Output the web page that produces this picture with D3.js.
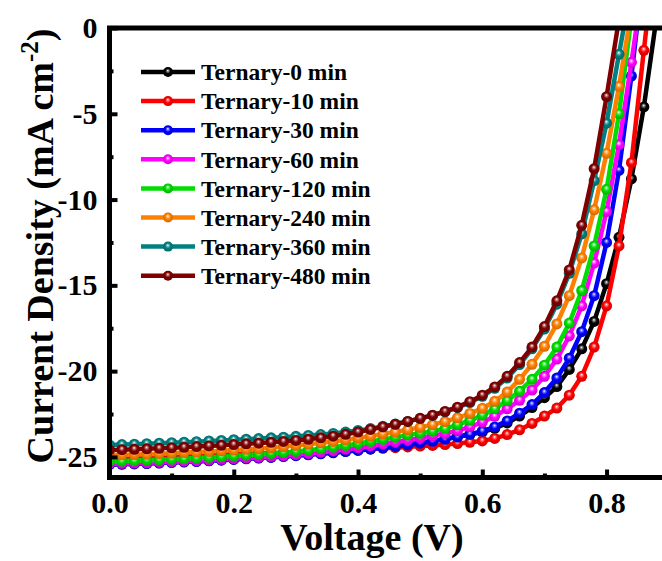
<!DOCTYPE html>
<html>
<head>
<meta charset="utf-8">
<script src="https://cdn.jsdelivr.net/npm/d3@7"></script>
<style>
  body { margin: 0; background: #fff; }
  svg { display: block; font-family: "Liberation Serif", "Times New Roman", serif; font-weight: bold; }
</style>
</head>
<body>
<svg id="jv" width="662" height="561"></svg>
<script>
// voltage steps (V)
var voltage = [0.00,0.02,0.04,0.06,0.08,0.10,0.12,0.14,0.16,0.18,0.20,0.22,0.24,0.26,0.28,0.30,0.32,0.34,0.36,0.38,
  0.40,0.42,0.44,0.46,0.48,0.50,0.52,0.54,0.56,0.58,0.60,0.62,0.64,0.66,0.68,0.70,0.72,0.74,0.76,0.78,
  0.80,0.82,0.84,0.86,0.88];

// current density (mA cm-2)
var j0 = [-25.43,-25.41,-25.39,-25.37,-25.34,-25.31,-25.28,-25.25,-25.21,-25.17,-25.13,-25.09,-25.05,-25.01,-24.96,-24.91,-24.86,-24.80,-24.74,-24.67,
  -24.60,-24.53,-24.45,-24.37,-24.28,-24.18,-24.07,-23.95,-23.82,-23.70,-23.55,-23.34,-23.02,-22.62,-22.12,-21.55,-20.90,-19.90,-18.70,-17.10,
  -14.90,-12.20,-8.80,-4.60,0.50];
var j10 = [-25.00,-24.99,-24.98,-24.97,-24.96,-24.94,-24.93,-24.91,-24.89,-24.87,-24.85,-24.83,-24.80,-24.78,-24.75,-24.72,-24.69,-24.66,-24.63,-24.60,
  -24.57,-24.53,-24.50,-24.46,-24.42,-24.37,-24.33,-24.28,-24.22,-24.15,-24.07,-23.92,-23.70,-23.42,-23.05,-22.62,-22.15,-21.40,-20.30,-18.60,
  -16.20,-12.70,-7.85,-1.30,5.00];
var j30 = [-25.45,-25.43,-25.41,-25.39,-25.36,-25.33,-25.30,-25.27,-25.23,-25.19,-25.15,-25.11,-25.07,-25.03,-24.98,-24.93,-24.88,-24.82,-24.76,-24.69,
  -24.62,-24.55,-24.47,-24.39,-24.30,-24.20,-24.09,-23.97,-23.84,-23.68,-23.50,-23.25,-22.90,-22.45,-21.95,-21.25,-20.40,-19.25,-17.70,-15.60,
  -12.50,-8.30,-2.80,3.50];
var j60 = [-25.40,-25.38,-25.36,-25.34,-25.31,-25.28,-25.25,-25.22,-25.18,-25.14,-25.10,-25.06,-25.02,-24.97,-24.92,-24.86,-24.80,-24.73,-24.65,-24.56,
  -24.46,-24.36,-24.25,-24.14,-24.02,-23.90,-23.77,-23.63,-23.48,-23.25,-22.98,-22.63,-22.20,-21.70,-21.10,-20.30,-19.30,-17.95,-16.20,-13.70,
  -10.70,-6.80,-2.00,3.00];
var j120 = [-25.27,-25.25,-25.23,-25.20,-25.17,-25.14,-25.11,-25.07,-25.03,-24.99,-24.95,-24.90,-24.85,-24.80,-24.74,-24.68,-24.61,-24.53,-24.44,-24.34,
  -24.22,-24.10,-23.98,-23.86,-23.73,-23.62,-23.50,-23.35,-23.13,-22.87,-22.57,-22.20,-21.72,-21.17,-20.48,-19.65,-18.60,-17.20,-15.30,-12.70,
  -9.40,-5.00,0.60];
var j240 = [-24.90,-24.88,-24.86,-24.84,-24.81,-24.78,-24.75,-24.72,-24.68,-24.64,-24.60,-24.56,-24.52,-24.47,-24.40,-24.33,-24.26,-24.18,-24.10,-24.01,
  -23.90,-23.79,-23.67,-23.55,-23.42,-23.28,-23.12,-22.94,-22.72,-22.47,-22.17,-21.76,-21.22,-20.48,-19.60,-18.55,-17.25,-15.60,-13.40,-10.60,
  -7.30,-3.40,1.00];
var j360 = [-24.30,-24.28,-24.26,-24.23,-24.20,-24.17,-24.14,-24.11,-24.07,-24.04,-24.00,-23.97,-23.93,-23.89,-23.85,-23.80,-23.75,-23.70,-23.63,-23.55,
  -23.46,-23.35,-23.22,-23.08,-22.93,-22.76,-22.58,-22.37,-22.13,-21.83,-21.47,-21.00,-20.40,-19.62,-18.70,-17.55,-16.10,-14.30,-12.00,-8.90,
  -5.55,-1.53,2.50];
var j480 = [-24.60,-24.58,-24.56,-24.53,-24.50,-24.47,-24.44,-24.40,-24.36,-24.32,-24.28,-24.24,-24.20,-24.15,-24.10,-24.04,-23.97,-23.89,-23.79,-23.68,
  -23.55,-23.40,-23.25,-23.10,-22.93,-22.75,-22.57,-22.35,-22.10,-21.78,-21.40,-20.92,-20.30,-19.50,-18.60,-17.40,-15.90,-14.10,-11.50,-8.20,
  -4.00,0.50];

var seriesNames = ["Ternary-0 min","Ternary-10 min","Ternary-30 min","Ternary-60 min",
  "Ternary-120 min","Ternary-240 min","Ternary-360 min","Ternary-480 min"];
var seriesValues = [j0, j10, j30, j60, j120, j240, j360, j480];
var seriesColors = ["#000000","#ff0000","#0000ff","#ff00ff","#00dd00","#ff8000","#008080","#800000"];

var xTicks = [0, 0.2, 0.4, 0.6, 0.8];
var xMinorTicks = [0.1, 0.3, 0.5, 0.7];
var yTicks = [0, -5, -10, -15, -20, -25];
var yMinorTicks = [-2.5, -7.5, -12.5, -17.5, -22.5];
var yTickLabels = ["0", "-5", "-10", "-15", "-20", "-25"];

var svg = d3.select("#jv"),
    margin = {top: 28, left: 109.5},
    width = 559.2,
    height = 449.5,
    g = svg.append("g").attr("transform", "translate(" + margin.left + "," + margin.top + ")");

var x = d3.scaleLinear().domain([0, 0.9]).range([0, width]),
    y = d3.scaleLinear().domain([-26.2, 0]).range([height, 0]);

// glossy marker fills
var defs = svg.append("defs");
seriesColors.forEach(function(c, i) {
  var grad = defs.append("radialGradient").attr("id", "ball" + i)
    .attr("cx", "50%").attr("cy", "48%").attr("r", "52%").attr("fx", "48%").attr("fy", "35%");
  grad.append("stop").attr("offset", "0%").attr("stop-color", "#ffffff");
  grad.append("stop").attr("offset", "22%").attr("stop-color", d3.interpolateRgb(c, "#ffffff")(0.45));
  grad.append("stop").attr("offset", "50%").attr("stop-color", c);
  grad.append("stop").attr("offset", "100%").attr("stop-color", d3.color(c).darker(0.6));
});
defs.append("clipPath").attr("id", "plotclip")
  .append("rect").attr("x", 0).attr("y", 0).attr("width", width).attr("height", height);

var line = d3.line()
  .x(function(d) { return x(d.v); })
  .y(function(d) { return y(d.j); });

var plot = g.append("g").attr("clip-path", "url(#plotclip)");

seriesValues.forEach(function(vals, i) {
  var pts = vals.map(function(j, k) { return {v: voltage[k], j: j}; });
  var s = plot.append("g").attr("class", "series");
  s.append("path")
    .attr("d", line(pts))
    .style("fill", "none")
    .style("stroke", seriesColors[i])
    .style("stroke-width", 4.5)
    .style("stroke-linejoin", "round");
  s.selectAll("circle").data(pts).enter().append("circle")
    .attr("cx", function(d) { return x(d.v); })
    .attr("cy", function(d) { return y(d.j); })
    .attr("r", 5.5)
    .style("fill", "url(#ball" + i + ")");
});

// axes (ticks point inward)
var xAxis = g.append("g").attr("transform", "translate(0," + height + ")")
  .call(d3.axisBottom(x).tickValues(xTicks).tickFormat(d3.format(".1f")).tickSize(-8).tickPadding(14));
var xMinor = g.append("g").attr("transform", "translate(0," + height + ")")
  .call(d3.axisBottom(x).tickValues(xMinorTicks).tickFormat("").tickSize(-4));
var yAxis = g.append("g")
  .call(d3.axisLeft(y).tickValues(yTicks).tickFormat(function(d, i) { return yTickLabels[i]; }).tickSize(-8).tickPadding(12));
var yMinor = g.append("g")
  .call(d3.axisLeft(y).tickValues(yMinorTicks).tickFormat("").tickSize(-4));

[xAxis, xMinor, yAxis, yMinor].forEach(function(a) {
  a.select(".domain").remove();
  a.selectAll(".tick line").style("stroke", "#000").style("stroke-width", 4);
  a.selectAll(".tick text").style("font-family", "Liberation Serif, serif")
    .style("font-weight", "bold").style("font-size", "30px").style("fill", "#000");
});

g.append("rect")
  .attr("x", 0).attr("y", 0).attr("width", width).attr("height", height)
  .style("fill", "none").style("stroke", "#000").style("stroke-width", 5);

// axis titles
svg.append("text")
  .attr("x", 372).attr("y", 550)
  .attr("text-anchor", "middle")
  .style("font-size", "38px")
  .text("Voltage (V)");

var yTitle = svg.append("text")
  .attr("transform", "translate(53,246) rotate(-90)")
  .attr("text-anchor", "middle")
  .style("font-size", "38px");
yTitle.append("tspan").text("Current Density (mA cm");
yTitle.append("tspan").attr("dy", -15).style("font-size", "25px").text("-2");
yTitle.append("tspan").attr("dy", 15).text(")");

// legend
var legend = svg.append("g").attr("class", "legend");
seriesNames.forEach(function(name, i) {
  var ly = 72 + i * 29.1;
  var row = legend.append("g");
  row.append("line").attr("x1", 141).attr("x2", 195).attr("y1", ly).attr("y2", ly)
    .style("stroke", seriesColors[i]).style("stroke-width", 4.5);
  row.append("circle").attr("cx", 168).attr("cy", ly).attr("r", 5)
    .style("fill", "url(#ball" + i + ")");
  row.append("text").attr("x", 201).attr("y", ly).attr("dy", "0.35em")
    .style("font-size", "23.5px").text(name);
});
</script>
</body>
</html>
